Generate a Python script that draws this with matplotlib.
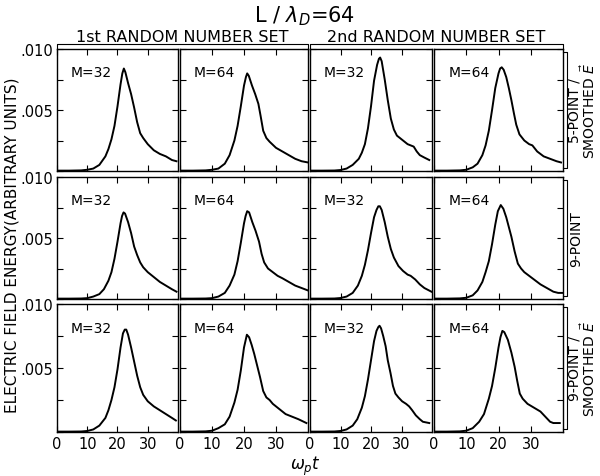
import matplotlib
matplotlib.use("Agg")
import matplotlib.pyplot as plt
from matplotlib.lines import Line2D

# ---- data (electric field energy vs w_p t) ----
# row 1: 5-point / smoothed E
t_5s_set1_m32 = [0, 4, 8, 10, 12, 14, 16, 17, 18, 19, 20, 21, 21.6, 22.1, 22.6, 23.5, 24.5, 25.5, 26.5,
                 27.5, 28.5, 30, 32, 34, 36, 38, 39.5]
e_5s_set1_m32 = [.00003, .00003, .00005, .0001, .0002, .0005, .0012, .0018, .0026, .0037, .0053, .0071,
                 .0080, .0084, .0081, .0072, .0063, .0052, .0040, .0031, .0027, .0022, .0017, .0014,
                 .0012, .0009, .0008]
t_5s_set1_m64 = [0, 4, 8, 10, 12, 14, 15.5, 17, 18, 19, 20, 20.6, 21, 21.5, 22.5, 23.5, 24.5, 25.2, 26,
                 27, 28, 30, 32, 34, 36, 38, 40]
e_5s_set1_m64 = [.00003, .00003, .00005, .0001, .0002, .0006, .0013, .0025, .0037, .0053, .0070, .0077,
                 .0080, .0078, .0070, .0063, .0055, .0045, .0033, .0027, .0024, .0019, .0016, .0013,
                 .0010, .0008, .0007]
t_5s_set2_m32 = [0, 4, 8, 10, 12, 14, 16, 17, 18, 19, 20, 21, 22, 22.6, 23, 23.5, 24.5, 25.5, 26.5,
                 27.5, 28.5, 30, 31, 32, 33, 34, 35, 36, 37.5, 39.1]
e_5s_set2_m32 = [.00003, .00003, .00004, .00008, .0002, .0005, .0010, .0015, .0022, .0035, .0053, .0074,
                 .0087, .0092, .0093, .0090, .0075, .0058, .0043, .0034, .0029, .0026, .0024, .0022,
                 .0021, .0020, .0016, .0013, .0011, .0009]
t_5s_set2_m64 = [0, 4, 8, 10, 12, 13.5, 15, 16, 17, 18, 19, 20, 20.5, 21, 21.6, 22.4, 23.2, 24, 24.8,
                 25.5, 26.5, 28, 29.5, 30.5, 32, 34, 36, 38, 39.4]
e_5s_set2_m64 = [.00003, .00003, .00005, .0001, .0003, .0006, .0013, .0021, .0033, .0050, .0068, .0080,
                 .0084, .0085, .0083, .0077, .0068, .0058, .0047, .0038, .0030, .0025, .0022, .0021,
                 .0016, .0012, .0010, .0008, .0007]

# row 2: 9-point
t_9p_set1_m32 = [0, 4, 8, 10, 12, 14, 15.5, 17, 18, 19, 20, 21, 21.5, 22, 22.5, 23.5, 24.5, 25.5, 26.5,
                 27.5, 28.5, 30, 32, 34, 36, 38, 39.5]
e_9p_set1_m32 = [.00003, .00003, .00004, .00007, .0002, .0004, .0008, .0015, .0022, .0033, .0047, .0062,
                 .0068, .0071, .0070, .0063, .0054, .0043, .0036, .0030, .0026, .0022, .0018, .0014,
                 .0011, .0008, .0006]
t_9p_set1_m64 = [0, 4, 8, 10, 12, 14, 15.5, 17, 18, 19, 20, 20.5, 21, 21.6, 22.6, 23.6, 24.7, 25.5,
                 26.3, 27.5, 29, 30.5, 32, 34, 36, 38, 40]
e_9p_set1_m64 = [.00003, .00003, .00004, .00007, .0002, .0005, .0011, .0020, .0031, .0046, .0062, .0068,
                 .0072, .0071, .0063, .0056, .0047, .0037, .0030, .0025, .0022, .0019, .0017, .0014,
                 .0011, .0009, .0007]
t_9p_set2_m32 = [0, 4, 8, 10, 12, 14, 15.7, 17, 18, 19, 20, 21, 21.8, 22.4, 22.9, 23.5, 24.5, 25.5,
                 26.5, 27.5, 29, 30.5, 32, 33, 34.5, 36, 37.5, 39.8]
e_9p_set2_m32 = [.00003, .00003, .00004, .00008, .0002, .0005, .0011, .0019, .0028, .0040, .0054, .0067,
                 .0073, .0076, .0076, .0073, .0063, .0051, .0041, .0034, .0027, .0023, .0020, .0019,
                 .0016, .0012, .0009, .0006]
t_9p_set2_m64 = [0, 4, 8, 10, 12, 13.5, 15, 16, 17, 18, 19, 19.8, 20.7, 21.5, 22.4, 23.2, 24, 25, 26,
                 27, 28, 29.5, 31, 33, 35, 37, 38.5, 40]
e_9p_set2_m64 = [.00003, .00003, .00005, .0001, .0003, .0007, .0014, .0022, .0031, .0045, .0061, .0072,
                 .0077, .0074, .0067, .0059, .0051, .0039, .0029, .0025, .0022, .0019, .0016, .0012,
                 .0009, .0006, .0005, .0005]

# row 3: 9-point / smoothed E
t_9s_set1_m32 = [0, 4, 8, 10, 12, 14, 16, 17, 18, 19, 20, 21, 21.8, 22.4, 22.9, 23.5, 24.5, 25.5, 26.5,
                 27.5, 28.5, 30, 32, 34, 36, 38, 39.3]
e_9s_set1_m32 = [.00003, .00003, .00004, .00008, .0002, .0005, .0011, .0017, .0025, .0035, .0049, .0066,
                 .0077, .0080, .0080, .0076, .0066, .0055, .0044, .0035, .0029, .0024, .0020, .0017,
                 .0014, .0011, .0009]
t_9s_set1_m64 = [0, 4, 8, 10, 12, 14, 15.5, 17, 18, 19, 20, 20.9, 21.6, 22.4, 23.2, 24, 25, 26, 27, 28,
                 29, 30, 31.5, 33, 35, 37, 39.5]
e_9s_set1_m64 = [.00003, .00003, .00005, .0001, .0003, .0006, .0012, .0023, .0033, .0048, .0066, .0076,
                 .0074, .0068, .0061, .0053, .0043, .0032, .0027, .0025, .0022, .0020, .0017, .0014,
                 .0012, .0010, .0007]
t_9s_set2_m32 = [0, 4, 8, 10, 12, 14, 15.5, 17, 18, 19, 20, 21, 21.8, 22.4, 22.8, 23.3, 24, 24.8, 25.5,
                 26.4, 27.2, 28, 29, 30.2, 31.5, 32.5, 33.5, 34.7, 36, 37, 39.1]
e_9s_set2_m32 = [.00003, .00003, .00004, .00008, .0002, .0005, .0010, .0019, .0028, .0041, .0056, .0071,
                 .0079, .0082, .0083, .0081, .0075, .0067, .0056, .0046, .0036, .0030, .0027, .0024,
                 .0022, .0020, .0017, .0013, .0010, .0008, .0007]
t_9s_set2_m64 = [0, 4, 8, 10, 12, 14, 15.5, 17, 18, 19, 20, 20.6, 21.2, 21.8, 22.9, 24, 25, 25.8, 26.6,
                 27.5, 29, 31, 33, 34.5, 36, 37, 39]
e_9s_set2_m64 = [.00003, .00003, .00005, .0001, .0003, .0008, .0014, .0026, .0036, .0050, .0066, .0074,
                 .0079, .0078, .0072, .0062, .0051, .0040, .0030, .0026, .0022, .0019, .0016, .0012,
                 .0008, .0007, .0007]

m_labels = ["M=32", "M=64", "M=32", "M=64"]
set_labels = ["1st RANDOM NUMBER SET", "2nd RANDOM NUMBER SET"]
row_labels = [("5-POINT /", r"SMOOTHED $\vec{E}$"), ("9-POINT", None), ("9-POINT /", r"SMOOTHED $\vec{E}$")]
x_ticks = [0, 10, 20, 30]
y_ticks = [0, .0025, .005, .0075, .010]
y_ticklabels = ["", "", ".005", "", ".010"]

panels = [
    [(t_5s_set1_m32, e_5s_set1_m32), (t_5s_set1_m64, e_5s_set1_m64),
     (t_5s_set2_m32, e_5s_set2_m32), (t_5s_set2_m64, e_5s_set2_m64)],
    [(t_9p_set1_m32, e_9p_set1_m32), (t_9p_set1_m64, e_9p_set1_m64),
     (t_9p_set2_m32, e_9p_set2_m32), (t_9p_set2_m64, e_9p_set2_m64)],
    [(t_9s_set1_m32, e_9s_set1_m32), (t_9s_set1_m64, e_9s_set1_m64),
     (t_9s_set2_m32, e_9s_set2_m32), (t_9s_set2_m64, e_9s_set2_m64)],
]

W, H = 600, 477
cols = [(57, 178), (180, 308), (310, 432), (434, 563)]
rows = [(50, 172), (178, 300), (305, 433)]


def fx(x):
    return x / W


def fy(y):
    return 1 - y / H


fig = plt.figure(figsize=(6, 4.77), dpi=100)

for r, (y0, y1) in enumerate(rows):
    for c, (x0, x1) in enumerate(cols):
        ax = fig.add_axes([fx(x0), fy(y1), (x1 - x0) / W, (y1 - y0) / H])
        t, e = panels[r][c]
        ax.plot(t, e, color="black", lw=1.4, solid_joinstyle="round")
        ax.set_xlim(0, 40)
        ax.set_ylim(0, 0.010)
        ax.set_xticks(x_ticks)
        ax.set_yticks(y_ticks)
        ax.tick_params(direction="in", top=True, right=True, length=4, width=0.8,
                       labelsize=10.5, pad=3)
        ax.set_xticklabels([str(v) for v in x_ticks] if r == 2 else [])
        ax.set_yticklabels(y_ticklabels if c == 0 else [])
        for s in ax.spines.values():
            s.set_linewidth(1.0)
        ax.text(0.11, 0.78, m_labels[c], transform=ax.transAxes, fontsize=10)

# title and set headers
fig.text(fx(305), fy(16), r"L / $\lambda_D$=64", ha="center", va="center", fontsize=15)
for i, lab in enumerate(set_labels):
    xa, xb = cols[2 * i][0], cols[2 * i + 1][1]
    fig.text(fx((xa + xb) / 2), fy(37), lab, ha="center", va="center", fontsize=11.5)
    fig.add_artist(Line2D([fx(xa), fx(xa), fx(xb), fx(xb)], [fy(49), fy(45), fy(45), fy(49)],
                          transform=fig.transFigure, color="black", lw=0.8))

# right-hand row labels (read bottom to top)
for r, (y0, y1) in enumerate(rows):
    fig.add_artist(Line2D([fx(563), fx(567), fx(567), fx(563)], [fy(y0 + 3), fy(y0 + 3), fy(y1 - 3), fy(y1 - 3)],
                          transform=fig.transFigure, color="black", lw=0.8))
    first, second = row_labels[r]
    yc = fy((y0 + y1) / 2)
    fig.text(fx(576 if second is None else 574), yc, first, rotation=90, ha="center", va="center",
             fontsize=10)
    if second:
        fig.text(fx(589), yc, second, rotation=90, ha="center", va="center", fontsize=10)

fig.text(fx(12), fy(245), "ELECTRIC FIELD ENERGY(ARBITRARY UNITS)", rotation=90,
         ha="center", va="center", fontsize=11)
fig.text(fx(305), fy(466), r"$\omega_p t$", ha="center", va="center", fontsize=12)

fig.savefig("out.png", dpi=100)
